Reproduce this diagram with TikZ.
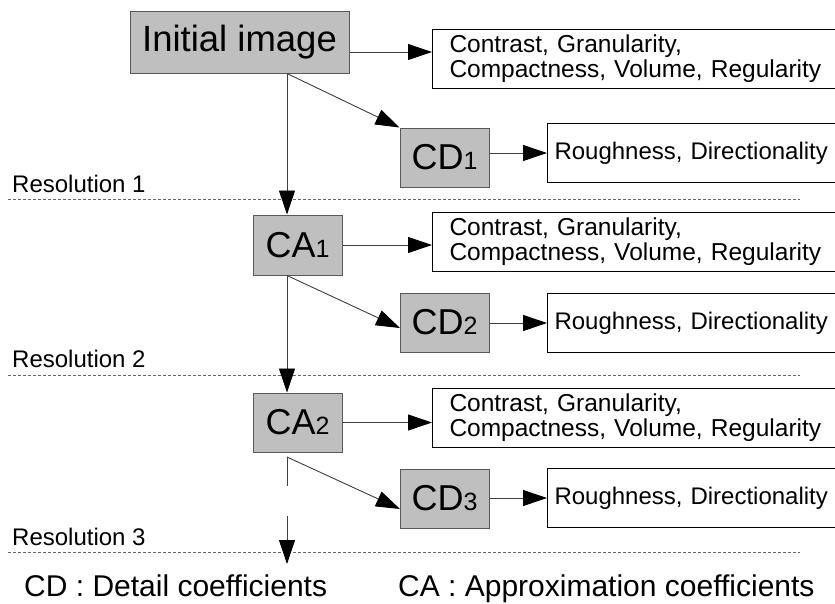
\documentclass[tikz,border=0pt]{standalone}
\usepackage{fontspec}
\setmainfont{Liberation Sans}
\usetikzlibrary{arrows.meta}
\begin{document}
\begin{tikzpicture}[x=1pt,y=-1pt,
  coef/.style={draw=black!65, fill=black!25, line width=1pt, minimum width=89pt, minimum height=59pt, inner sep=0pt, font=\fontsize{36}{40}\selectfont},
  feat/.style={draw=black, fill=white, line width=1pt, anchor=north west, minimum height=59pt, text width=380pt, inner xsep=17pt, inner ysep=0pt, align=left, font=\fontsize{24.5}{25}\selectfont},
  rough/.style={draw=black, fill=white, line width=1pt, anchor=north west, minimum height=59pt, text width=320pt, inner xsep=7pt, inner ysep=0pt, align=left, font=\fontsize{24}{25}\selectfont},
  arr/.style={draw=black!75, line width=0.9pt, -{Triangle[length=24pt,width=16pt,fill=black,color=black]}},
  link/.style={draw=black!75, line width=0.9pt},
  resline/.style={draw=black!60, line width=1pt, dash pattern=on 3pt off 2pt},
  reslabel/.style={anchor=base west, inner sep=0pt, font=\fontsize{24}{24}\selectfont},
  legend/.style={anchor=base west, inner sep=0pt, font=\fontsize{30}{30}\selectfont}]
\newcommand{\sub}[1]{{\fontsize{25}{25}\selectfont #1}}
\useasboundingbox (0,0) rectangle (835,603);
\fill[white] (0,0) rectangle (835,603);

% nodes
\node[coef, minimum width=219pt, minimum height=62pt, font=\fontsize{36.5}{40}\selectfont] (init) at (239.5,42) {Initial image};
\node[feat] (f1) at (432,29) {Contrast, Granularity,\\Compactness, Volume, Regularity};
\node[coef] (cd1) at (444.5,157.5) {CD\sub{1}};
\node[rough] (r1) at (547,123) {Roughness, Directionality};

\node[coef, minimum height=60pt] (ca1) at (297.5,245) {CA\sub{1}};
\node[feat] (f2) at (432,212) {Contrast, Granularity,\\Compactness, Volume, Regularity};
\node[coef] (cd2) at (444.5,322.5) {CD\sub{2}};
\node[rough] (r2) at (547,293) {Roughness, Directionality};

\node[coef] (ca2) at (297.5,422.5) {CA\sub{2}};
\node[feat] (f3) at (432,388) {Contrast, Granularity,\\Compactness, Volume, Regularity};
\node[coef] (cd3) at (444.5,498.5) {CD\sub{3}};
\node[rough] (r3) at (547,468) {Roughness, Directionality};

% resolution separators
\coordinate (d1a) at (8,199);  \coordinate (d1b) at (800,199);
\coordinate (d2a) at (8,375);  \coordinate (d2b) at (800,375);
\coordinate (d3a) at (8,552);  \coordinate (d3b) at (800,552);
\draw[resline] (d1a) -- (d1b);
\draw[resline] (d2a) -- (d2b);
\draw[resline] (d3a) -- (d3b);
\node[reslabel] (res1) at (12,192) {Resolution 1};
\node[reslabel] (res2) at (12,367) {Resolution 2};
\node[reslabel] (res3) at (12,545) {Resolution 3};

% branch points
\coordinate (vx) at (287,0);
\coordinate (y1) at (0,52);
\coordinate (b0) at (vx |- init.south);
\coordinate (b1) at (vx |- ca1.south);
\coordinate (b2) at (287,457);
\coordinate (g1) at (287,486);
\coordinate (g2) at (287,516);
\coordinate (end) at (287,564);
\coordinate (t2) at (400,328);
\coordinate (t3) at (400,509);

% connectors
\draw[arr] (init.east |- y1) -- (f1.west |- y1);
\draw[arr] (b0) -- (cd1.north west);
\draw[arr] (b0) -- (vx |- ca1.north);
\draw[arr] (r1.west -| cd1.east) -- (r1.west);

\draw[arr] (ca1.east) -- (ca1.east -| f2.west);
\draw[arr] (b1) -- (t2);
\draw[arr] (b1) -- (vx |- ca2.north);
\draw[arr] (r2.west -| cd2.east) -- (r2.west);

\draw[arr] (ca2.east) -- (ca2.east -| f3.west);
\draw[arr] (b2) -- (t3);
\draw[link] (b2) -- (g1);
\draw[arr] (g2) -- (end);
\draw[arr] (r3.west -| cd3.east) -- (r3.west);

% legend
\node[legend] (lcd) at (24,596) {CD : Detail coefficients};
\node[legend] (lca) at (398,596) {CA : Approximation coefficients};
\end{tikzpicture}
\end{document}
